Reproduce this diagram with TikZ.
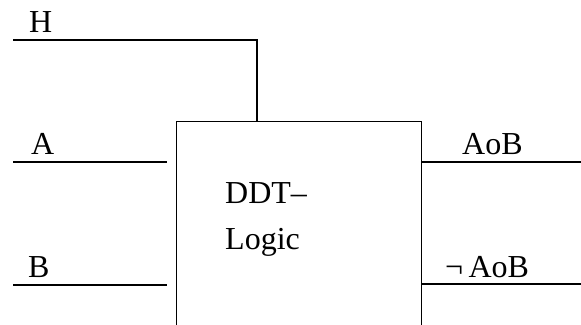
\documentclass[tikz,border=0pt]{standalone}
\usepackage{fontspec}
\setmainfont{Liberation Serif}
\begin{document}
\begin{tikzpicture}[x=1pt,y=1pt,
  wire/.style={line width=1.3pt,black},
  lbl/.style={anchor=base west,inner sep=0pt,font=\fontsize{32}{38}\selectfont}]
\useasboundingbox (0,0) rectangle (581,-324);
% logic block (its lower edge lies below the page)
\node[draw,line width=1.3pt,minimum width=245pt,minimum height=240pt,inner sep=0pt,anchor=north west] (blk) at (176,-121) {};
% free ends of the signal lines
\coordinate (hin) at (13,-40);
\coordinate (ain) at (13,-162);
\coordinate (bin) at (13,-285);
\coordinate (aend) at (167,-162);
\coordinate (bend) at (167,-285);
\coordinate (htop) at (257,-121);
\coordinate (oout) at (581,-162);
\coordinate (nout) at (581,-284);
% wires
\draw[wire] (hin) -| (htop);
\draw[wire] (ain) -- (aend);
\draw[wire] (bin) -- (bend);
\draw[wire] (blk.east |- oout) -- (oout);
\draw[wire] (blk.east |- nout) -- (nout);
% labels
\node[lbl] (lh) at (29,-32) {H};
\node[lbl] (la) at (31,-154) {A};
\node[lbl] (lb) at (28,-277) {B};
\node[lbl] (l1) at (225,-203) {DDT–};
\node[lbl] (l2) at (225,-249) {Logic};
\node[lbl] (lo) at (462,-154) {AoB};
\node[lbl] (ln) at (445,-277) {¬\,AoB};
\end{tikzpicture}
\end{document}
